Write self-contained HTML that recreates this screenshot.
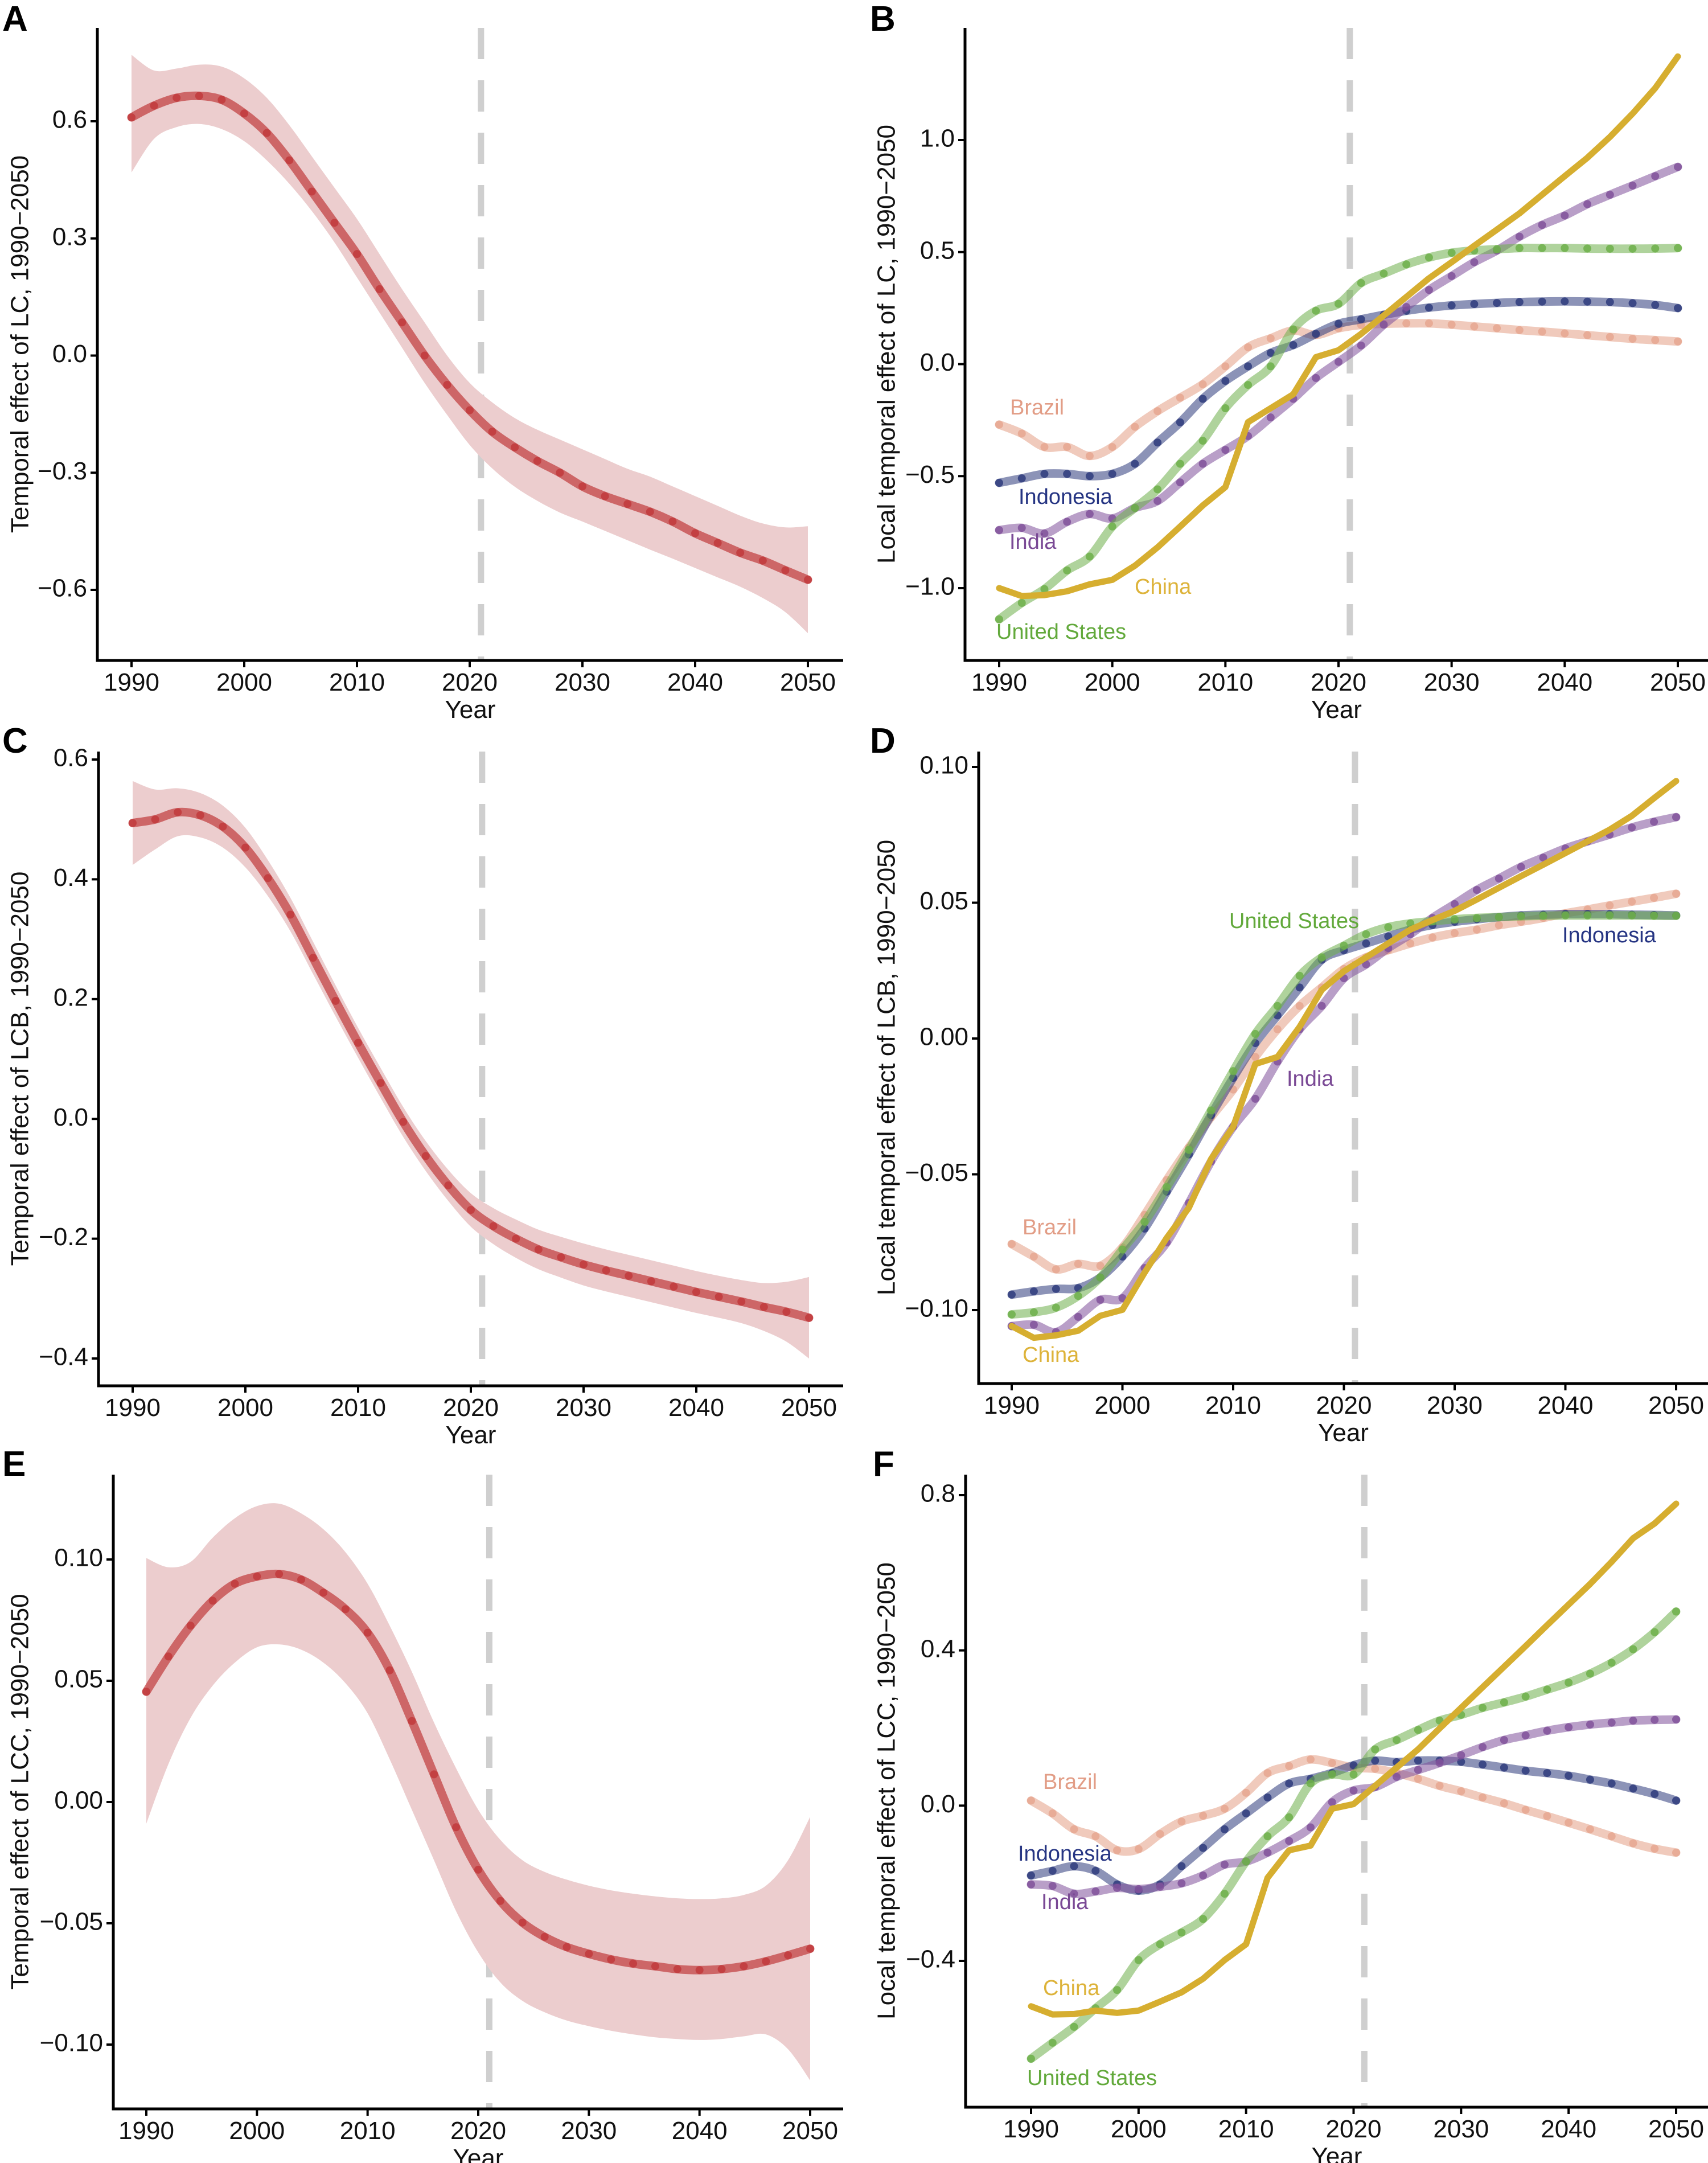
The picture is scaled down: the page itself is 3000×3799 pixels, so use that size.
<!DOCTYPE html>
<html><head><meta charset="utf-8"><style>
html,body{margin:0;padding:0;background:#fff;}
svg{display:block;}
text{font-family:"Liberation Sans",Arial,sans-serif;}
</style></head><body>
<svg id="fig" xmlns="http://www.w3.org/2000/svg" width="3000" height="3799" viewBox="0 0 3000 3799"></svg>
<script>
const years = [1990,1992,1994,1996,1998,2000,2002,2004,2006,2008,2010,2012,2014,2016,2018,2020,2022,2024,2026,2028,2030,2032,2034,2036,2038,2040,2042,2044,2046,2048,2050];
// Panel A (LC)
const aMean = [0.61,0.64,0.66,0.665,0.655,0.62,0.57,0.50,0.42,0.34,0.26,0.17,0.085,0.0,-0.075,-0.14,-0.195,-0.235,-0.27,-0.30,-0.335,-0.36,-0.38,-0.40,-0.425,-0.455,-0.48,-0.505,-0.525,-0.55,-0.574];
const aUpper = [0.77,0.73,0.735,0.745,0.74,0.71,0.66,0.59,0.51,0.43,0.35,0.26,0.17,0.085,0.0,-0.07,-0.12,-0.16,-0.19,-0.215,-0.24,-0.265,-0.29,-0.31,-0.335,-0.36,-0.385,-0.41,-0.43,-0.44,-0.437];
const aLower = [0.469,0.555,0.585,0.593,0.58,0.549,0.50,0.44,0.37,0.29,0.2,0.11,0.02,-0.07,-0.152,-0.229,-0.289,-0.336,-0.372,-0.402,-0.425,-0.449,-0.473,-0.497,-0.52,-0.544,-0.568,-0.592,-0.621,-0.657,-0.711];
// Panel C (LCB)
const cMean = [0.494,0.5,0.512,0.507,0.488,0.453,0.402,0.341,0.269,0.197,0.127,0.06,-0.005,-0.062,-0.111,-0.152,-0.179,-0.2,-0.218,-0.231,-0.243,-0.253,-0.262,-0.271,-0.28,-0.289,-0.297,-0.305,-0.314,-0.322,-0.332];
const cSE = [0.07,0.05,0.04,0.037,0.035,0.033,0.03,0.028,0.027,0.026,0.025,0.025,0.025,0.025,0.026,0.028,0.03,0.032,0.033,0.034,0.035,0.035,0.035,0.035,0.035,0.035,0.035,0.036,0.04,0.05,0.068];
// Panel E (LCC)
const eMean = [0.0455,0.06,0.0727,0.083,0.09,0.093,0.094,0.0917,0.0863,0.0795,0.0698,0.0543,0.0334,0.0114,-0.0104,-0.0279,-0.0408,-0.0497,-0.0556,-0.0598,-0.0626,-0.0649,-0.0666,-0.0677,-0.0689,-0.0693,-0.0689,-0.0677,-0.0657,-0.0632,-0.0605];
const eUpper = [0.1006,0.0968,0.099,0.109,0.117,0.122,0.123,0.119,0.1125,0.103,0.09,0.0727,0.0537,0.0328,0.0139,-0.0032,-0.0156,-0.024,-0.0288,-0.032,-0.0345,-0.0364,-0.0378,-0.0389,-0.0397,-0.04,-0.0397,-0.0383,-0.0345,-0.024,-0.0061];
const eLower = [-0.0089,0.0157,0.0347,0.048,0.0575,0.0638,0.065,0.0628,0.0575,0.049,0.0366,0.0176,-0.0032,-0.024,-0.045,-0.062,-0.0744,-0.082,-0.0867,-0.0901,-0.0924,-0.0943,-0.0958,-0.097,-0.0977,-0.0981,-0.0977,-0.0966,-0.0958,-0.1019,-0.1148];
// Panel B (LC by country)
const bBrazil = [-0.27,-0.31,-0.37,-0.37,-0.41,-0.37,-0.28,-0.21,-0.15,-0.09,-0.01,0.075,0.115,0.15,0.13,0.16,0.175,0.18,0.182,0.182,0.176,0.168,0.16,0.152,0.145,0.137,0.129,0.121,0.113,0.107,0.101];
const bIndonesia = [-0.53,-0.51,-0.49,-0.49,-0.5,-0.49,-0.445,-0.35,-0.26,-0.155,-0.075,-0.01,0.05,0.085,0.135,0.18,0.2,0.22,0.238,0.252,0.262,0.268,0.273,0.277,0.279,0.28,0.279,0.277,0.272,0.264,0.25];
const bIndia = [-0.741,-0.731,-0.756,-0.704,-0.669,-0.689,-0.642,-0.611,-0.528,-0.445,-0.383,-0.321,-0.238,-0.155,-0.062,0.01,0.083,0.176,0.255,0.331,0.393,0.455,0.507,0.569,0.621,0.663,0.714,0.756,0.797,0.839,0.88];
const bUS = [-1.139,-1.066,-1.004,-0.921,-0.859,-0.725,-0.642,-0.559,-0.445,-0.342,-0.197,-0.093,-0.01,0.155,0.238,0.269,0.362,0.404,0.445,0.476,0.497,0.507,0.513,0.518,0.518,0.518,0.516,0.515,0.515,0.516,0.518];
const bChina = [-1.0,-1.035,-1.031,-1.014,-0.983,-0.963,-0.9,-0.818,-0.725,-0.631,-0.549,-0.259,-0.197,-0.135,0.031,0.062,0.135,0.217,0.3,0.383,0.455,0.528,0.6,0.673,0.756,0.839,0.921,1.014,1.118,1.232,1.373];
// Panel D (LCB by country)
const dBrazil = [-0.0757,-0.0803,-0.085,-0.083,-0.0837,-0.0769,-0.0649,-0.0521,-0.0401,-0.029,-0.0188,-0.0068,0.0034,0.012,0.0188,0.0256,0.0299,0.0325,0.035,0.0372,0.0388,0.0401,0.0417,0.043,0.0444,0.0461,0.0475,0.049,0.0504,0.0518,0.0533];
const dIndonesia = [-0.0943,-0.0931,-0.0922,-0.0919,-0.088,-0.0803,-0.07,-0.0564,-0.0427,-0.0282,-0.0145,-0.0017,0.0085,0.0188,0.029,0.0325,0.035,0.0376,0.0401,0.0418,0.043,0.0439,0.0447,0.0453,0.0456,0.0458,0.0458,0.0458,0.0456,0.0455,0.0453];
const dIndia = [-0.1059,-0.1054,-0.1081,-0.1025,-0.0962,-0.0956,-0.0845,-0.0751,-0.0606,-0.0453,-0.0325,-0.0222,-0.0085,0.0034,0.012,0.0222,0.0273,0.0333,0.0384,0.0444,0.0495,0.0547,0.0589,0.0632,0.0666,0.07,0.0726,0.0751,0.0777,0.0798,0.0815];
const dUS = [-0.1016,-0.1008,-0.0991,-0.0948,-0.088,-0.0777,-0.0675,-0.0547,-0.041,-0.0265,-0.012,0.0017,0.012,0.0231,0.0299,0.0342,0.0384,0.041,0.0424,0.0432,0.0439,0.0444,0.0447,0.045,0.0452,0.0453,0.0453,0.0453,0.0453,0.0452,0.0452];
const dChina = [-0.1059,-0.1102,-0.1093,-0.1076,-0.1021,-0.0999,-0.0862,-0.0734,-0.0623,-0.0444,-0.0325,-0.0094,-0.0068,0.0043,0.0179,0.0248,0.0299,0.035,0.0401,0.0436,0.047,0.0512,0.0555,0.0598,0.064,0.0683,0.0726,0.0769,0.082,0.0885,0.0948];
// Panel F (LCC by country)
const fBrazil = [0.013,-0.02,-0.061,-0.079,-0.115,-0.112,-0.073,-0.041,-0.026,-0.008,0.033,0.084,0.102,0.119,0.11,0.098,0.095,0.084,0.069,0.051,0.037,0.021,0.006,-0.011,-0.027,-0.044,-0.061,-0.079,-0.097,-0.111,-0.121];
const fIndonesia = [-0.18,-0.168,-0.156,-0.168,-0.203,-0.219,-0.203,-0.156,-0.109,-0.061,-0.02,0.021,0.057,0.069,0.084,0.104,0.116,0.112,0.116,0.116,0.113,0.106,0.098,0.09,0.084,0.077,0.067,0.057,0.044,0.03,0.013];
const fIndia = [-0.203,-0.207,-0.227,-0.221,-0.212,-0.215,-0.209,-0.2,-0.18,-0.152,-0.144,-0.121,-0.091,-0.056,0.009,0.039,0.048,0.074,0.092,0.11,0.13,0.151,0.169,0.181,0.193,0.202,0.209,0.214,0.219,0.221,0.222];
const fUS = [-0.652,-0.611,-0.57,-0.522,-0.475,-0.398,-0.357,-0.327,-0.292,-0.227,-0.144,-0.079,-0.03,0.057,0.08,0.08,0.145,0.169,0.195,0.219,0.234,0.252,0.266,0.281,0.299,0.317,0.34,0.368,0.403,0.447,0.5];
const fChina = [-0.517,-0.538,-0.537,-0.528,-0.534,-0.528,-0.505,-0.481,-0.446,-0.398,-0.357,-0.186,-0.115,-0.103,-0.008,0.004,0.051,0.098,0.145,0.199,0.252,0.305,0.358,0.411,0.465,0.518,0.571,0.628,0.689,0.727,0.778];
// tick labels
const xTicks = [1990,2000,2010,2020,2030,2040,2050];
const aTicks = [0.6,0.3,0.0,-0.3,-0.6];
const aTickLabels = ["0.6","0.3","0.0","\u22120.3","\u22120.6"];
const bTicks = [1.0,0.5,0.0,-0.5,-1.0];
const bTickLabels = ["1.0","0.5","0.0","\u22120.5","\u22121.0"];
const cTicks = [0.6,0.4,0.2,0.0,-0.2,-0.4];
const cTickLabels = ["0.6","0.4","0.2","0.0","\u22120.2","\u22120.4"];
const dTicks = [0.10,0.05,0.0,-0.05,-0.10];
const dTickLabels = ["0.10","0.05","0.00","\u22120.05","\u22120.10"];
const eTicks = [0.10,0.05,0.0,-0.05,-0.10];
const eTickLabels = ["0.10","0.05","0.00","\u22120.05","\u22120.10"];
const fTicks = [0.8,0.4,0.0,-0.4];
const fTickLabels = ["0.8","0.4","0.0","\u22120.4"];

const NS = "http://www.w3.org/2000/svg";
const svg = document.getElementById('fig');
function mk(tag, attrs, parent){ const e=document.createElementNS(NS,tag); for(const k in attrs) e.setAttribute(k,attrs[k]); (parent||svg).appendChild(e); return e; }

// Catmull-Rom smooth path through points (continuation, no leading M)
function smooth(P){
  let d = '';
  for (let i=0;i<P.length-1;i++){
    const p0=P[Math.max(i-1,0)], p1=P[i], p2=P[i+1], p3=P[Math.min(i+2,P.length-1)];
    const c1=[p1[0]+(p2[0]-p0[0])/6, p1[1]+(p2[1]-p0[1])/6];
    const c2=[p2[0]-(p3[0]-p1[0])/6, p2[1]-(p3[1]-p1[1])/6];
    d += ` C${c1[0].toFixed(1)},${c1[1].toFixed(1)} ${c2[0].toFixed(1)},${c2[1].toFixed(1)} ${p2[0].toFixed(1)},${p2[1].toFixed(1)}`;
  }
  return d;
}

const COL = {Brazil:"#E6A790", Indonesia:"#2E3B7C", India:"#80519A", "United States":"#6DAF4A", China:"#D6AE30"};
const TXT = {Brazil:"#E29D86", Indonesia:"#263583", India:"#7A4995", "United States":"#62A93B", China:"#DDB33A"};

function panel(cfg){
  const g = mk('g',{});
  
  
  const sx = y => cfg.px1990 + (y-1990)*(cfg.px2050-cfg.px1990)/60;
  const sy = v => cfg.yp1 + (v-cfg.yv1)*(cfg.yp2-cfg.yp1)/(cfg.yv2-cfg.yv1);
  const L = mk('text',{x:cfg.lx,y:cfg.ly,'font-size':62,'font-weight':'bold',fill:'#000'},g);
  L.textContent = cfg.letter;
  
  
  const dl = mk('line',{x1:sx(2021),x2:sx(2021),y1:cfg.top,y2:cfg.bottom,stroke:'#CFCFCF','stroke-width':11,'stroke-dasharray':'55 37'},g);
  
  
  if (cfg.lo){
    const up = years.map((y,i)=>[sx(y),sy(cfg.hi[i])]);
    const dn = years.map((y,i)=>[sx(y),sy(cfg.lo[i])]).reverse();
    let d = `M${up[0][0]},${up[0][1]}` + smooth(up) + ` L${dn[0][0]},${dn[0][1]}` + smooth(dn) + 'Z';
    const b = mk('path',{d:d,fill:'#ECCDCE'},g);
    
    
  }
  cfg.series.forEach(s=>{
    const sg = mk('g',{},g);
    
    
    const P = years.map((y,i)=>[sx(y),sy(s.vals[i])]);
    if (s.solid){
      const pts = P.map(p=>p[0].toFixed(1)+','+p[1].toFixed(1)).join(' ');
      mk('polyline',{points:pts,fill:'none',stroke:s.color,'stroke-width':11,'stroke-linejoin':'round','stroke-linecap':'round'},sg);
    } else {
      const d = `M${P[0][0]},${P[0][1]}` + smooth(P);
      mk('path',{d:d,fill:'none',stroke:s.color,'stroke-width':15,'stroke-opacity':s.lineOp||0.55,'stroke-linejoin':'round','stroke-linecap':'round'},sg);
      years.forEach((y,i)=>{
        const c = mk('circle',{cx:sx(y),cy:sy(s.vals[i]),r:7,fill:s.color,'fill-opacity':0.85},sg);
        
        
      });
    }
    if (s.label){
      const t = mk('text',{x:s.label[0],y:s.label[1],'font-size':38,fill:s.tcolor,'dominant-baseline':'middle'},g);
      t.textContent = s.name;
      
      
    }
  });
  const ax = mk('path',{d:`M${cfg.axX},${cfg.top} V${cfg.bottom} H${cfg.right}`,fill:'none',stroke:'#000','stroke-width':5},g);
  
  
  cfg.yticks.forEach((v,i)=>{
    mk('line',{x1:cfg.axX-12,x2:cfg.axX,y1:sy(v),y2:sy(v),stroke:'#000','stroke-width':4},g);
    const t = mk('text',{x:cfg.axX-18,y:sy(v),'font-size':44,'text-anchor':'end','dominant-baseline':'middle',fill:'#111'},g);
    t.textContent = cfg.ylabels[i];
    
    
  });
  xTicks.forEach(y=>{
    mk('line',{x1:sx(y),x2:sx(y),y1:cfg.bottom,y2:cfg.bottom+12,stroke:'#000','stroke-width':4},g);
    const t = mk('text',{x:sx(y),y:cfg.bottom+53,'font-size':44,'text-anchor':'middle',fill:'#111'},g);
    t.textContent = y;
    
    
  });
  const xt = mk('text',{x:(cfg.axX+cfg.right)/2,y:cfg.bottom+101,'font-size':44,'text-anchor':'middle',fill:'#111'},g);
  xt.textContent = 'Year';
  
  
  const yt = mk('text',{x:0,y:0,'font-size':44,'text-anchor':'middle','dominant-baseline':'middle',fill:'#111',transform:`translate(${cfg.ytx},${(cfg.top+cfg.bottom)/2}) rotate(-90)`},g);
  yt.textContent = cfg.ytitle;
  
  
}

function countries(br,ind,ia,us,ch,labels){
  return [
    {name:'Brazil',vals:br,color:COL.Brazil,tcolor:TXT.Brazil,label:labels.Brazil,lineOp:0.6},
    {name:'Indonesia',vals:ind,color:COL.Indonesia,tcolor:TXT.Indonesia,label:labels.Indonesia,lineOp:0.55},
    {name:'India',vals:ia,color:COL.India,tcolor:TXT.India,label:labels.India,lineOp:0.55},
    {name:'United States',vals:us,color:COL['United States'],tcolor:TXT['United States'],label:labels.US,lineOp:0.55},
    {name:'China',vals:ch,color:COL.China,tcolor:TXT.China,label:labels.China,solid:true}
  ];
}
const RED = "#C13A3C";
const cLo=cMean.map((m,i)=>m-cSE[i]), cHi=cMean.map((m,i)=>m+cSE[i]);

panel({letter:'A',lx:4,ly:54,axX:171,top:49,bottom:1160,right:1481,px1990:231,px2050:1419,yv1:0.6,yp1:213,yv2:-0.6,yp2:1036,
  yticks:aTicks,ylabels:aTickLabels,ytx:38,ytitle:'Temporal effect of LC, 1990\u22122050',lo:aLower,hi:aUpper,
  series:[{name:'LC',vals:aMean,color:RED,lineOp:0.7}]});
panel({letter:'B',lx:1528,ly:54,axX:1695,top:49,bottom:1160,right:3000,px1990:1755,px2050:2947,yv1:1.0,yp1:246,yv2:-1.0,yp2:1033,
  yticks:bTicks,ylabels:bTickLabels,ytx:1560,ytitle:'Local temporal effect of LC, 1990\u22122050',
  series:countries(bBrazil,bIndonesia,bIndia,bUS,bChina,{Brazil:[1774,718],Indonesia:[1789,875],India:[1773,954],China:[1993,1033],US:[1750,1112]})});
panel({letter:'C',lx:4,ly:1322,axX:173,top:1320,bottom:2434,right:1481,px1990:233,px2050:1421,yv1:0.6,yp1:1334,yv2:-0.4,yp2:2386,
  yticks:cTicks,ylabels:cTickLabels,ytx:38,ytitle:'Temporal effect of LCB, 1990\u22122050',lo:cLo,hi:cHi,
  series:[{name:'LCB',vals:cMean,color:RED,lineOp:0.7}]});
panel({letter:'D',lx:1528,ly:1322,axX:1719,top:1320,bottom:2430,right:3000,px1990:1777,px2050:2944,yv1:0.10,yp1:1347,yv2:-0.10,yp2:2301,
  yticks:dTicks,ylabels:dTickLabels,ytx:1560,ytitle:'Local temporal effect of LCB, 1990\u22122050',
  series:countries(dBrazil,dIndonesia,dIndia,dUS,dChina,{Brazil:[1796,2158],Indonesia:[2744,1645],India:[2260,1897],China:[1796,2382],US:[2159,1620]})});
panel({letter:'E',lx:4,ly:2592,axX:199,top:2590,bottom:3704,right:1481,px1990:257,px2050:1423,yv1:0.10,yp1:2739,yv2:-0.10,yp2:3591,
  yticks:eTicks,ylabels:eTickLabels,ytx:38,ytitle:'Temporal effect of LCC, 1990\u22122050',lo:eLower,hi:eUpper,
  series:[{name:'LCC',vals:eMean,color:RED,lineOp:0.7}]});
panel({letter:'F',lx:1533,ly:2592,axX:1696,top:2590,bottom:3701,right:3000,px1990:1811,px2050:2944,yv1:0.8,yp1:2626,yv2:-0.4,yp2:3444,
  yticks:fTicks,ylabels:fTickLabels,ytx:1560,ytitle:'Local temporal effect of LCC, 1990\u22122050',
  series:countries(fBrazil,fIndonesia,fIndia,fUS,fChina,{Brazil:[1832,3132],Indonesia:[1788,3258],India:[1829,3343],China:[1832,3494],US:[1804,3652]})});
</script>
</body></html>
